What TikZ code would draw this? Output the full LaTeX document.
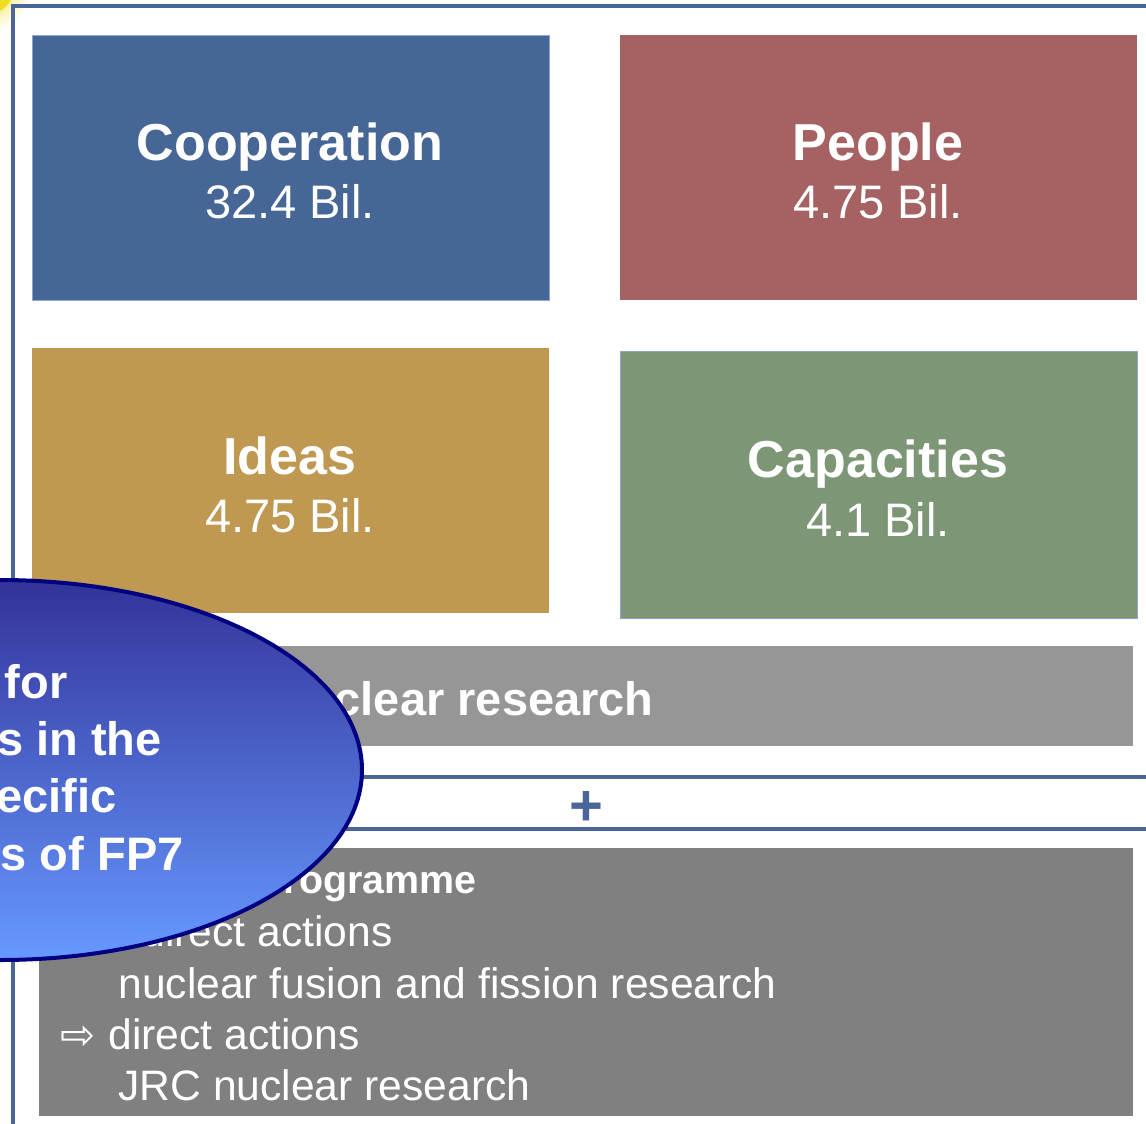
\documentclass[tikz,border=0pt]{standalone}
\usepackage{fontspec}
\setmainfont{Liberation Sans}
\newfontfamily\arrowfont{DejaVu Sans}
\usetikzlibrary{shapes.geometric}

\definecolor{frameblue}{RGB}{74,102,153}
\definecolor{coopblue}{RGB}{70,102,150}
\definecolor{peoplered}{RGB}{166,97,99}
\definecolor{ideasgold}{RGB}{191,153,82}
\definecolor{capgreen}{RGB}{125,150,117}
\definecolor{edgeblue}{RGB}{140,165,210}
\definecolor{bargrey}{RGB}{150,150,150}
\definecolor{progrey}{RGB}{128,128,128}
\definecolor{ovaltop}{RGB}{51,51,153}
\definecolor{ovalbottom}{RGB}{102,153,255}
\definecolor{ovaledge}{RGB}{0,0,128}
\definecolor{glow}{RGB}{240,222,30}

\tikzset{
  block/.style={rectangle, inner sep=0pt, anchor=north west, minimum width=258.5pt},
  head/.style={anchor=base, inner sep=0pt, text=white, font=\bfseries\fontsize{26}{30}\selectfont},
  amount/.style={anchor=base, inner sep=0pt, text=white, font=\fontsize{23.5}{28}\selectfont},
  oval/.style={anchor=base east, inner sep=0pt, text=white, font=\bfseries\fontsize{23.5}{28}\selectfont},
  item/.style={anchor=base west, inner sep=0pt, text=white, font=\fontsize{21.3}{25}\selectfont},
  pointer/.style={anchor=base west, inner sep=0pt, text=white, font=\arrowfont\fontsize{21}{24}\selectfont},
  rule/.style={draw=frameblue, line width=1.6pt}
}

\begin{document}
\begin{tikzpicture}[x=0.5pt,y=-0.5pt]
\useasboundingbox (0,0) rectangle (1146,1124);
\clip (0,0) rectangle (1146,1124);

% corner glow
\shade[inner color=glow, outer color=white] (-15,-15) circle (48);
\fill[glow] (-15,-15) circle (30);

% frame
\coordinate (topleft) at (13,6);
\coordinate (topright) at (1146,6);
\coordinate (bottomleft) at (13,1124);
\draw[rule, line width=1.8pt] (topright) -- (topleft) -- (bottomleft);

% the four programmes
\node [block, fill=coopblue, draw=edgeblue, line width=0.5pt, minimum height=132.5pt] (coop) at (32,35) {};
\node [block, fill=peoplered, minimum height=132.5pt] (people) at (620,35) {};
\node [block, fill=ideasgold, minimum height=132.5pt] (ideas) at (32,348) {};
\node [block, fill=capgreen, draw=edgeblue, line width=0.5pt, minimum height=133.5pt] (capacities) at (620,351) {};

\node [head] (cooptitle) at (290,160) {Cooperation};
\node [amount] (coopvalue) at (290,218) {32.4 Bil.};
\node [head] (peopletitle) at (878,160) {People};
\node [amount] (peoplevalue) at (878,218) {4.75 Bil.};
\node [head] (ideastitle) at (290,474) {Ideas};
\node [amount] (ideasvalue) at (290,532) {4.75 Bil.};
\node [head] (captitle) at (878,477) {Capacities};
\node [amount] (capvalue) at (878,536) {4.1 Bil.};

% nuclear research bar
\node [block, fill=bargrey, minimum width=550.5pt, minimum height=50pt] (nuclear) at (32,646) {};
\node [oval] (nucleartext) at (654,715) {Euratom: nuclear research};

% plus between two rules
\coordinate (ruleAleft) at (13,777);
\coordinate (ruleAright) at (1146,777);
\coordinate (ruleBleft) at (13,829);
\coordinate (ruleBright) at (1146,829);
\draw[rule] (ruleAleft) -- (ruleAright);
\draw[rule] (ruleBleft) -- (ruleBright);
\node [inner sep=0pt, text=frameblue, font=\bfseries\fontsize{29}{32}\selectfont] (plus) at (586,808) {+};

% Euratom programme
\node [block, fill=progrey, minimum width=547pt, minimum height=134pt] (euratom) at (39,848) {};
\node [anchor=base east, inner sep=0pt, text=white, font=\bfseries\fontsize{19.7}{24}\selectfont] (progtitle) at (477,893) {Euratom Programme};
\node [pointer] (arrowA) at (60,946) {⇨};
\node [item] (indirect) at (108,946) {indirect actions};
\node [item] (fusion) at (118,998) {nuclear fusion and fission research};
\node [pointer] (arrowB) at (60,1049) {⇨};
\node [item] (direct) at (108,1049) {direct actions};
\node [item] (jrc) at (118,1100) {JRC nuclear research};

% budget oval on top
\node [ellipse, draw=ovaledge, line width=2pt, top color=ovaltop, bottom color=ovalbottom,
       inner sep=0pt, minimum width=362pt, minimum height=190pt] (budget) at (0,770) {};
\node [oval] (ovalA) at (68,698) {Budget for};
\node [oval] (ovalB) at (162,755) {activities in the};
\node [oval] (ovalC) at (117,812) {specific};
\node [oval] (ovalD) at (184,870) {programmes of FP7};
\end{tikzpicture}
\end{document}
